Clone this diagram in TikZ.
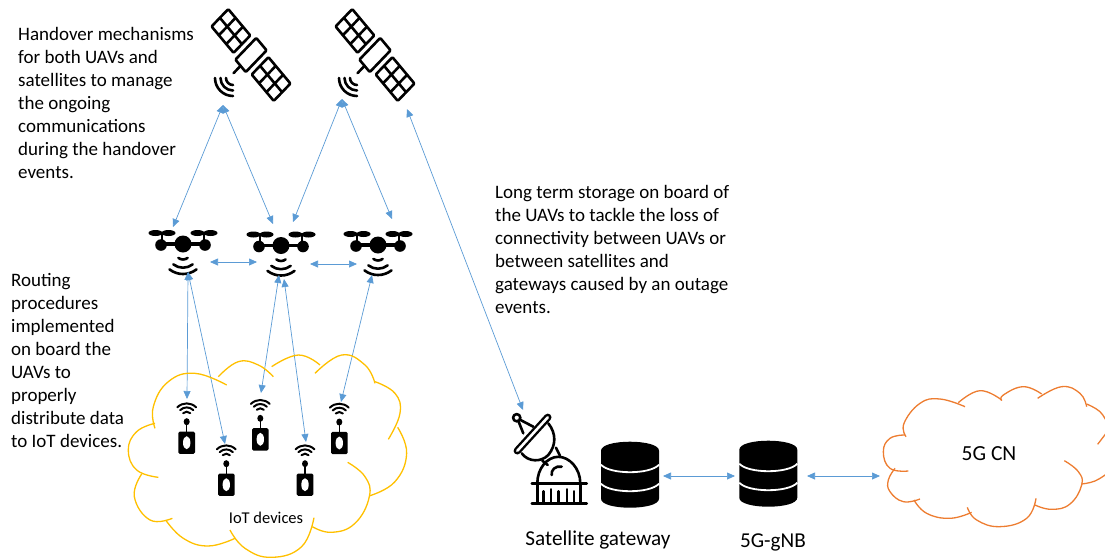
\documentclass[tikz,border=0pt]{standalone}
\usepackage{fontspec}
\setmainfont{Carlito}
\usetikzlibrary{arrows.meta}

\definecolor{linkblue}{HTML}{5B9BD5}
\definecolor{iotyellow}{HTML}{FFC000}
\definecolor{cnorange}{HTML}{ED7D31}

\tikzset{
  iconline/.style={black,line width=2.6pt,line cap=round,line join=round},
  link/.style={linkblue,line width=0.7pt,{Triangle[length=8pt,width=7pt]}-{Triangle[length=8pt,width=7pt]}},
  bump/.style={line width=1.3pt,smooth,tension=0.75},
  note/.style={align=left,anchor=north west,inner sep=0pt,font=\fontsize{19}{23}\selectfont},
  pics/satellite/.style={code={
    \begin{scope}[xscale=.95,yscale=1.06,rotate=-47]
      \foreach \s in {-1,1} {
        \draw[iconline,rounded corners=1pt] (\s*31-17,-12) rectangle (\s*31+17,12);
        \draw[iconline] (\s*31-17,0) -- (\s*31+17,0);
        \foreach \d in {-5.7,5.7} \draw[iconline] (\s*31+\d,-12) -- (\s*31+\d,12);
      }
      \draw[iconline,fill=white,rounded corners=1pt] (-8,-15) rectangle (8,15);
      \draw[iconline] (0,15) -- (0,25);
    \end{scope}
    \foreach \rad in {7,12.5,18}
      \draw[iconline] (-18,23) ++(180:\rad pt) arc[start angle=180,end angle=270,radius=\rad pt];
  }},
  pics/drone/.style={code={
    \draw[black,line width=3.5pt] (-22,0) -- (22,0);
    \fill (0,0) circle[radius=8.5];
    \foreach \s in {-1,1} {
      \fill (\s*22,1) circle[radius=5.8];
      \draw[black,line width=1.4pt] (\s*21,-11) -- (\s*21,0);
      \fill (\s*21-6.5,-11) ellipse[x radius=7,y radius=3];
      \fill (\s*21+6.5,-11) ellipse[x radius=7,y radius=3];
    }
    \draw[iconline] (0,8) ++(232:7.5pt) arc[start angle=232,end angle=308,radius=7.5pt];
    \draw[iconline] (0,8) ++(232:15.7pt) arc[start angle=232,end angle=308,radius=15.7pt];
    \draw[iconline] (0,8) ++(232:22pt) arc[start angle=232,end angle=308,radius=22pt];
  }},
  pics/iotdevice/.style={code={
    \fill[rounded corners=1.5pt] (-8.3,-11.2) rectangle (8.3,11.2);
    \fill[white] (0,0) ellipse[x radius=3.7,y radius=6.5];
    \draw[black,line width=1.4pt] (0,-21) -- (0,-11);
    \fill (0,-21) ellipse[x radius=3,y radius=3.5];
    \foreach \rad in {5,9.3,13.3}
      \draw[black,line width=2pt,line cap=round] (0,-26) ++(45:\rad pt) arc[start angle=45,end angle=135,radius=\rad pt];
  }},
  pics/database/.style={code={
    \fill (-29,9) .. controls (-29,-3) and (29,-3) .. (29,9) -- (29,57)
      .. controls (29,69) and (-29,69) .. (-29,57) -- cycle;
    \draw[white,line width=1.8pt] (-29,23) .. controls (-20,33) and (20,33) .. (29,23);
    \draw[white,line width=1.8pt] (-29,42) .. controls (-20,52) and (20,52) .. (29,42);
  }},
  pics/dish/.style={code={
    % dome and base
    \draw[iconline] (-27.5,0) -- (27.5,0);
    \draw[iconline] (-27.5,20) -- (27.5,20);
    \draw[iconline] (-22,0) .. controls (-22,-15) and (-12,-26.5) .. (-1,-26.5) .. controls (10,-26.5) and (21,-15) .. (21,0);
    \draw[iconline] (-22,0) -- (-22,20);
    \draw[iconline] (21,0) -- (21,20);
    \foreach \tick/\top in {-16/8,-8.5/6,-1/8,7.5/6,14.5/8}
      \draw[iconline] (\tick,\top) -- (\tick,20);
    \draw[iconline] (-7.6,-8.3) .. controls (-8.5,-13) and (-4,-18) .. (2.4,-16.6);
    % neck
    \draw[iconline] (-3.3,-35.6) -- (.7,-27.6);
    \draw[iconline] (-17,-22.6) -- (-11.6,-18.3);
    % bowl, bar and feed
    \draw[iconline] (-11,-60) .. controls (-3,-50) and (-3,-38) .. (-11,-28.3) .. controls (-18,-21) and (-31,-21) .. (-37.6,-30);
    \draw[black,line width=7.4pt,line cap=round] (-42,-32.5) -- (-11.5,-66);
    \draw[white,line width=2.6pt,line cap=round] (-42,-32.5) -- (-11.5,-66);
    \draw[iconline] (-42,-65) -- (-36,-50);
    \draw[iconline] (-42,-65) -- (-26,-56.6);
    \draw[iconline,fill=white] (-42.6,-65.6) circle[radius=3.6];
  }}
}

\begin{document}
\begin{tikzpicture}[x=1pt,y=-1pt]
\useasboundingbox (0,0) rectangle (1105,558);

\pic at (251,55) {satellite};
\pic at (375,55) {satellite};

\pic at (183,244) {drone};
\pic at (281,245.5) {drone};
\pic at (378,245) {drone};

\pic at (186.7,442.7) {iotdevice};
\pic at (226.3,484.7) {iotdevice};
\pic at (260.3,439.3) {iotdevice};
\pic at (305,484.7) {iotdevice};
\pic at (339.3,443) {iotdevice};

\pic at (559.3,483.3) {dish};
\pic at (630,441.7) {database};
\pic at (768.3,440.7) {database};

% link ends
\coordinate (sata) at (223,105);
\coordinate (satb) at (342,99);
\coordinate (satc) at (407,109);
\coordinate (uavaup) at (173,227);
\coordinate (uavbleftup) at (273,224);
\coordinate (uavbrightup) at (293,222);
\coordinate (uavcup) at (392,219);
\coordinate (uavaright) at (210,262);
\coordinate (uavbleft) at (257,262);
\coordinate (uavbright) at (310,264);
\coordinate (uavcleft) at (357,264);
\coordinate (uavadown) at (188,272);
\coordinate (uavbdown) at (279,275);
\coordinate (uavbdownr) at (284,279);
\coordinate (uavcdown) at (372,275);
\coordinate (iota) at (187,399);
\coordinate (iotb) at (225,444);
\coordinate (iotc) at (261,393);
\coordinate (iotd) at (306,442);
\coordinate (iote) at (341,402);
\coordinate (dish) at (523,410);
\coordinate (gwdb) at (663,476);
\coordinate (gnbl) at (735,476);
\coordinate (gnbr) at (807,476);
\coordinate (cn) at (880,476);

\draw[link] (sata) -- (uavaup);
\draw[link] (sata) -- (uavbleftup);
\draw[link] (satb) -- (uavbrightup);
\draw[link] (satb) -- (uavcup);
\draw[link] (satc) -- (dish);
\draw[link] (uavaright) -- (uavbleft);
\draw[link] (uavbright) -- (uavcleft);
\draw[link] (uavadown) -- (iota);
\draw[link] (uavadown) -- (iotb);
\draw[link] (uavbdown) -- (iotc);
\draw[link] (uavbdownr) -- (iotd);
\draw[link] (uavcdown) -- (iote);
\draw[link] (gwdb) -- (gnbl);
\draw[link] (gnbr) -- (cn);

% IoT cloud
\begin{scope}[shift={(125,350)},x=0.3333pt,y=-0.3333pt,iotyellow]
\draw[bump] plot coordinates {(90,235) (85,170) (130,95) (210,70) (305,105)};
\draw[bump] plot coordinates {(280,80) (340,35) (400,45) (445,80)};
\draw[bump] plot coordinates {(440,50) (520,15) (585,45)};
\draw[bump] plot coordinates {(570,70) (650,15) (720,45) (750,100)};
\draw[bump] plot coordinates {(750,95) (810,130) (825,190) (790,268)};
\draw[bump] plot coordinates {(818,232) (845,310) (810,395) (735,437)};
\draw[bump] plot coordinates {(668,337) (720,380) (733,440) (690,520) (620,547) (562,530)};
\draw[bump] plot coordinates {(567,503) (530,590) (440,622) (360,595) (315,540)};
\draw[bump] plot coordinates {(330,565) (250,588) (175,565) (122,510)};
\draw[bump] plot coordinates {(142,505) (75,510) (28,440) (50,372)};
\draw[bump] plot coordinates {(100,382) (35,360) (10,300) (35,245) (90,220)};
\end{scope}

% CN cloud
\begin{scope}[shift={(870,380)},x=0.3333pt,y=-0.3333pt,cnorange]
\draw[bump] plot coordinates {(108,170) (102,130) (150,70) (210,57) (285,80)};
\draw[bump] plot coordinates {(265,68) (330,32) (395,60)};
\draw[bump] plot coordinates {(395,62) (400,45) (460,20) (515,42)};
\draw[bump] plot coordinates {(503,55) (575,20) (630,40) (650,80)};
\draw[bump] plot coordinates {(650,72) (690,95) (712,130)};
\draw[bump] plot coordinates {(712,155) (683,193)};
\draw[bump] plot coordinates {(712,280) (675,303) (635,312)};
\draw[bump] plot coordinates {(583,242) (625,275) (635,315) (600,372) (545,388) (495,375)};
\draw[bump] plot coordinates {(498,355) (470,415) (390,440) (320,420) (292,382)};
\draw[bump] plot coordinates {(305,397) (240,415) (170,400) (132,360)};
\draw[bump] plot coordinates {(150,357) (100,365) (60,335) (55,300) (75,265)};
\draw[bump] plot coordinates {(115,273) (60,265) (40,215) (60,175) (105,165)};
\end{scope}

\node[note] (handover) at (18,27) {Handover mechanisms\\for both UAVs and\\satellites to manage\\the ongoing\\communications\\during the handover\\events.};
\node[note] (storage) at (495,185) {Long term storage on board of\\the UAVs to tackle the loss of\\connectivity between UAVs or\\between satellites and\\gateways caused by an outage\\events.};
\node[note] (routing) at (11,273.5) {Routing\\procedures\\implemented\\on board the\\UAVs to\\properly\\distribute data\\to IoT devices.};
\node[font=\fontsize{16.5}{18}\selectfont] (iotlabel) at (266,518) {IoT devices};
\node[font=\fontsize{21.5}{24}\selectfont] (cnlabel) at (989,454) {5G CN};
\node[font=\fontsize{21.2}{24}\selectfont] (gwlabel) at (598,539.5) {Satellite gateway};
\node[font=\fontsize{21.2}{24}\selectfont] (gnblabel) at (773,542.5) {5G-gNB};
\end{tikzpicture}
\end{document}
